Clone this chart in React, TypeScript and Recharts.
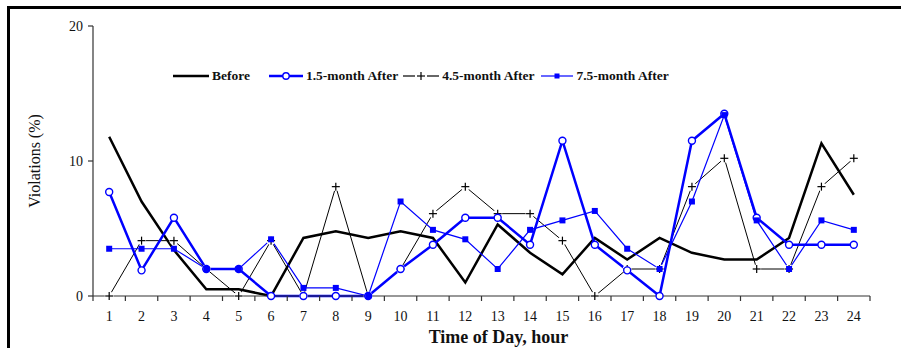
import React from "react";
import { LineChart, Line, XAxis, YAxis } from "recharts";

const hours = [1, 2, 3, 4, 5, 6, 7, 8, 9, 10, 11, 12, 13, 14, 15, 16, 17, 18, 19, 20, 21, 22, 23, 24];
const before = [11.8, 7.0, 3.4, 0.5, 0.5, 0, 4.3, 4.8, 4.3, 4.8, 4.3, 1.0, 5.3, 3.2, 1.6, 4.3, 2.7, 4.3, 3.2, 2.7, 2.7, 4.3, 11.3, 7.5];
const after15 = [7.7, 1.9, 5.8, 2.0, 2.0, 0, 0, 0, 0, 2.0, 3.8, 5.8, 5.8, 3.8, 11.5, 3.8, 1.9, 0, 11.5, 13.5, 5.8, 3.8, 3.8, 3.8];
const after45 = [0, 4.1, 4.1, 2.0, 0, 4.1, 0, 8.1, 0, 2.0, 6.1, 8.1, 6.1, 6.1, 4.1, 0, 2.0, 2.0, 8.1, 10.2, 2.0, 2.0, 8.1, 10.2];
const after75 = [3.5, 3.5, 3.5, 2.0, 2.0, 4.2, 0.6, 0.6, 0, 7.0, 4.9, 4.2, 2.0, 4.9, 5.6, 6.3, 3.5, 2.0, 7.0, 13.4, 5.6, 2.0, 5.6, 4.9];
const yTicks = [0, 10, 20];
const seriesNames = ["Before", "1.5-month After", "4.5-month After", "7.5-month After"];

const data = hours.map((h, i) => ({
  hour: h,
  before: before[i],
  after15: after15[i],
  after45: after45[i],
  after75: after75[i],
}));

// tick marks sit on the hour boundaries, labels in between
const xTicks = hours.flatMap((h) => [h - 0.5, h]).concat([hours.length + 0.5]);

const FONT = '"Liberation Serif", "Times New Roman", serif';
const BLUE = "#0000ff";
const AXIS = "#333";

function HourTick(props: any) {
  const { x, y, payload } = props;
  const v = payload.value;
  if (v % 1 !== 0) {
    return <line x1={x} x2={x} y1={y} y2={y + 5} stroke={AXIS} strokeWidth={1.2} />;
  }
  return (
    <text x={x} y={y + 25} textAnchor="middle" fontFamily={FONT} fontSize={14} fill="#111">
      {v}
    </text>
  );
}

function PlusDot(props: any) {
  const { cx, cy, index } = props;
  if (cx == null || cy == null) return null;
  return (
    <g key={`p${index}`}>
      <circle cx={cx} cy={cy} r={4.5} fill="#fff" />
      <line x1={cx - 4} x2={cx + 4} y1={cy} y2={cy} stroke="#000" strokeWidth={1.2} />
      <line x1={cx} x2={cx} y1={cy - 4} y2={cy + 4} stroke="#000" strokeWidth={1.2} />
    </g>
  );
}

function LegendSample({ idx }: { idx: number }) {
  if (idx === 0)
    return (
      <svg width={36} height={10}>
        <line x1={0} x2={36} y1={5} y2={5} stroke="#000" strokeWidth={2.5} />
      </svg>
    );
  if (idx === 1)
    return (
      <svg width={34} height={10}>
        <line x1={0} x2={34} y1={5} y2={5} stroke={BLUE} strokeWidth={2.5} />
        <circle cx={17} cy={5} r={3.2} fill="#fff" stroke={BLUE} strokeWidth={1.4} />
      </svg>
    );
  if (idx === 2)
    return (
      <svg width={36} height={10}>
        <line x1={0} x2={12} y1={5} y2={5} stroke="#000" strokeWidth={1.2} />
        <line x1={24} x2={36} y1={5} y2={5} stroke="#000" strokeWidth={1.2} />
        <line x1={14} x2={22} y1={5} y2={5} stroke="#000" strokeWidth={1.2} />
        <line x1={18} x2={18} y1={1} y2={9} stroke="#000" strokeWidth={1.2} />
      </svg>
    );
  return (
    <svg width={32} height={10}>
      <line x1={0} x2={32} y1={5} y2={5} stroke={BLUE} strokeWidth={1.2} />
      <rect x={13.5} y={2.5} width={5} height={5} fill={BLUE} />
    </svg>
  );
}

const legendGaps = [19, 5, 7, 0];

function ChartLegend() {
  return (
    <div style={{ display: "flex", alignItems: "center", fontFamily: FONT, fontSize: 13.5, fontWeight: "bold", color: "#111" }}>
      {seriesNames.map((name, i) => (
        <div key={name} style={{ display: "flex", alignItems: "center", marginRight: legendGaps[i] }}>
          <LegendSample idx={i} />
          <span style={{ marginLeft: 3, whiteSpace: "nowrap" }}>{name}</span>
        </div>
      ))}
    </div>
  );
}

export default function App() {
  return (
    <div style={{ position: "absolute", left: 0, top: 0, width: 901, height: 348, background: "#fff", overflow: "hidden" }}>
      <div
        style={{
          position: "absolute",
          left: 7,
          top: 6,
          right: 0,
          bottom: 0,
          borderTop: "3px solid #000",
          borderLeft: "3px solid #000",
        }}
      />
      <div style={{ position: "absolute", left: 0, top: 0 }}>
        <LineChart width={901} height={348} data={data} margin={{ top: 26, right: 31, left: 0, bottom: 0 }}>
          <XAxis
            dataKey="hour"
            type="number"
            domain={[0.5, 24.5]}
            ticks={xTicks}
            interval={0}
            tick={<HourTick />}
            tickLine={false}
            tickSize={0}
            tickMargin={0}
            height={52}
            stroke={AXIS}
            strokeWidth={1.2}
            label={{
              value: "Time of Day, hour",
              position: "insideBottom",
              offset: 5,
              dx: 17,
              style: { fontFamily: FONT, fontSize: 18, fontWeight: "bold", fill: "#111" },
            }}
          />
          <YAxis
            domain={[0, 20]}
            ticks={yTicks}
            width={93}
            tickSize={5}
            tickMargin={5}
            stroke={AXIS}
            strokeWidth={1.2}
            tick={{ fontFamily: FONT, fontSize: 14, fill: "#111" }}
            label={{
              value: "Violations (%)",
              angle: -90,
              position: "insideLeft",
              offset: 34,
              style: { textAnchor: "middle", fontFamily: FONT, fontSize: 16, fill: "#111" },
            }}
          />
          <Line
            dataKey="before"
            name={seriesNames[0]}
            stroke="#000"
            strokeWidth={2.5}
            dot={false}
            isAnimationActive={false}
          />
          <Line
            dataKey="after45"
            name={seriesNames[2]}
            stroke="#000"
            strokeWidth={1}
            dot={<PlusDot />}
            isAnimationActive={false}
          />
          <Line
            dataKey="after15"
            name={seriesNames[1]}
            stroke={BLUE}
            strokeWidth={2.5}
            dot={{ r: 3.5, fill: "#fff", stroke: BLUE, strokeWidth: 1.4 }}
            isAnimationActive={false}
          />
          <Line
            dataKey="after75"
            name={seriesNames[3]}
            stroke={BLUE}
            strokeWidth={1.2}
            dot={(p: any) => (
              <rect key={`s${p.index}`} x={p.cx - 3} y={p.cy - 3} width={6} height={6} fill={BLUE} />
            )}
            isAnimationActive={false}
          />
        </LineChart>
      </div>
      <div style={{ position: "absolute", left: 173, top: 68 }}>
        <ChartLegend />
      </div>
    </div>
  );
}
